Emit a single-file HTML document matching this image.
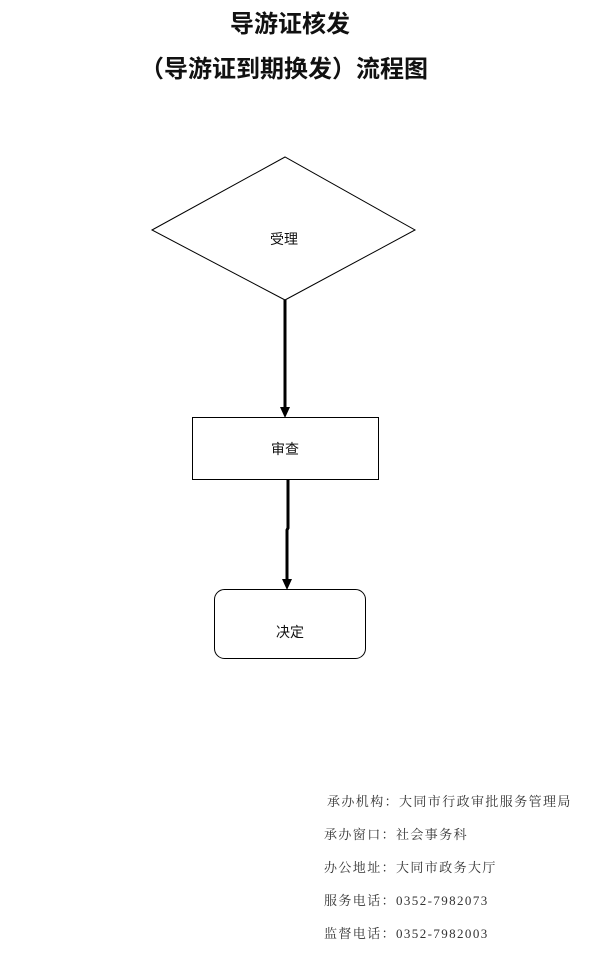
<!DOCTYPE html>
<html><head><meta charset="utf-8"><style>
html,body{margin:0;padding:0;background:#fff;}
body{width:608px;height:958px;position:relative;overflow:hidden;}
.t{position:absolute;left:0;width:580px;text-align:center;font-family:"Liberation Sans","Noto Sans CJK SC",sans-serif;font-weight:bold;font-size:24px;color:#111;}
.i{position:absolute;font-family:"Liberation Serif","Noto Serif CJK SC",serif;font-size:13px;color:#333;letter-spacing:1.4px;white-space:nowrap;}
</style></head><body>
<div class="t" style="top:4px;">导游证核发</div>
<div class="t" style="top:49px;left:-6px;">（导游证到期换发）流程图</div>
<svg width="608" height="958" style="position:absolute;left:0;top:0" xmlns="http://www.w3.org/2000/svg">
<polygon points="152,230 285,157 415,230 285,300" fill="#fff" stroke="#000" stroke-width="1"/>
<line x1="285" y1="300" x2="285" y2="408" stroke="#000" stroke-width="3"/>
<polygon points="280,407 290,407 285,418" fill="#000"/>
<rect x="192.5" y="417.5" width="186" height="62" fill="#fff" stroke="#000" stroke-width="1"/>
<polyline points="288,480 288,528 287,530 287,580" fill="none" stroke="#000" stroke-width="3"/>
<polygon points="282,579 292,579 287,590" fill="#000"/>
<rect x="214.5" y="589.5" width="151" height="69" rx="10" fill="#fff" stroke="#000" stroke-width="1"/>
<g font-family="Liberation Sans, Noto Sans CJK SC, sans-serif" font-size="14" fill="#111" text-anchor="middle">
<text x="284" y="244">受理</text>
<text x="285" y="454">审查</text>
<text x="290" y="637">决定</text>
</g>
</svg>
<div class="i" style="left:327px;top:791px;">承办机构：大同市行政审批服务管理局</div>
<div class="i" style="left:324px;top:824px;">承办窗口：社会事务科</div>
<div class="i" style="left:324px;top:857px;">办公地址：大同市政务大厅</div>
<div class="i" style="left:324px;top:890px;">服务电话：0352-7982073</div>
<div class="i" style="left:324px;top:923px;">监督电话：0352-7982003</div>
</body></html>
